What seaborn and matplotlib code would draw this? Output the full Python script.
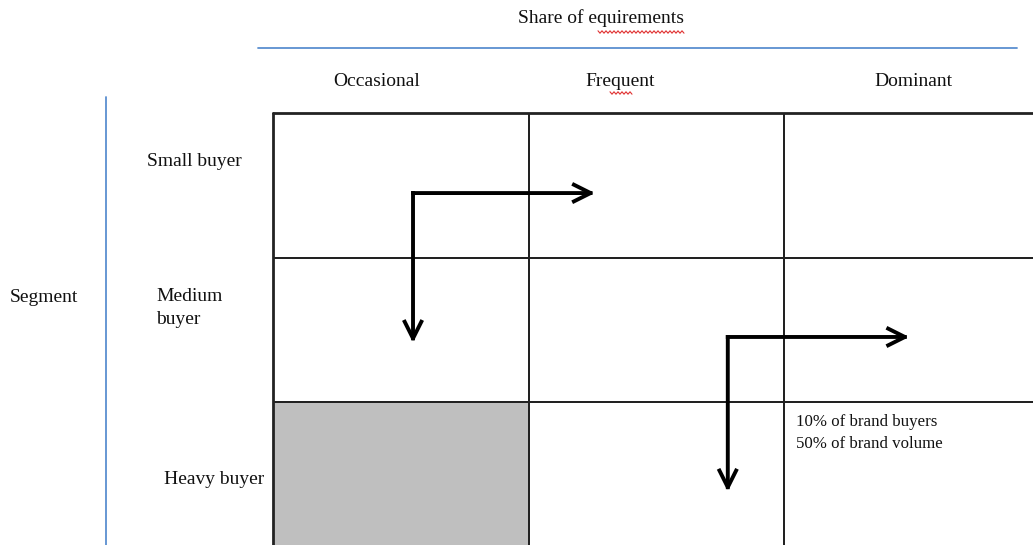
import numpy as np
import pandas as pd
import matplotlib
matplotlib.use("Agg")
import matplotlib.pyplot as plt
import seaborn as sns

# ---- data ----
columns = ["Occasional", "Frequent", "Dominant"]
rows = ["Small buyer", "Medium\nbuyer", "Heavy buyer"]
shaded = [[0, 0, 0],
          [0, 0, 0],
          [1, 0, 0]]
x_title = "Share of equirements"
y_title = "Segment"
cell_note = "10% of brand buyers\n50% of brand volume"

sns.set_theme(style="white")
plt.rcParams['font.family'] = ['Liberation Serif', 'DejaVu Serif']

W, H = 1033, 545
fig = plt.figure(figsize=(W / 100, H / 100), dpi=100)

def fx(px):
    return px / W

def fy(py):
    return 1 - py / H

FS = 14

# grid axes (pixel box: x 273..1039, y 113..546.5)
gx0, gy0, cw, ch = 273, 113, 255.5, 144.5
ax = fig.add_axes([fx(gx0), fy(gy0 + 3 * ch), 3 * cw / W, 3 * ch / H])
df = pd.DataFrame(shaded, index=rows, columns=columns)
sns.heatmap(df, ax=ax, cmap=matplotlib.colors.ListedColormap(["white", "#BFBFBF"]),
            cbar=False, linewidths=1.1, linecolor="#222222", vmin=0, vmax=1,
            xticklabels=False, yticklabels=False)
ax.set_xlabel("")
ax.set_ylabel("")
ax.set_xlim(0, 3)
ax.set_ylim(3, 0)
ax.plot([0, 0], [0, 3], color="#222222", lw=2.0, clip_on=False)
ax.plot([0, 3], [0, 0], color="#222222", lw=2.0, clip_on=False)

# bent arrows (cell units)
arrows = [
    ((0.548, 0.554), (1.26, 0.554), (0.548, 1.59)),
    ((1.78, 1.55), (2.49, 1.55), (1.78, 2.62)),
]
for corner, hend, vend in arrows:
    for end in (hend, vend):
        ax.annotate("", xy=end, xytext=corner,
                    arrowprops=dict(arrowstyle="->,head_length=1.0,head_width=0.5",
                                    lw=2.8, color="black", shrinkA=0, shrinkB=0,
                                    capstyle="projecting"))

ax.text(2.047, 2.085, cell_note, ha="left", va="top", fontsize=12.2,
        linespacing=1.5, color="#111111")

# titles / labels
fig.text(fx(601), fy(18), x_title, ha="center", va="center", fontsize=FS, color="#111111")
fig.add_artist(plt.Line2D([fx(258), fx(1017)], [fy(48), fy(48)], color="#5B8FD0", lw=1.3))
fig.add_artist(plt.Line2D([fx(106), fx(106)], [fy(97), fy(545)], color="#5B8FD0", lw=1.3))

col_x = [377, 620, 913]
for lab, x in zip(columns, col_x):
    fig.text(fx(x), fy(81), lab, ha="center", va="center", fontsize=FS, color="#111111")

fig.text(fx(147), fy(162), rows[0], ha="left", va="center", fontsize=FS, color="#111111")
fig.text(fx(156), fy(308), rows[1], ha="left", va="center", fontsize=FS, color="#111111", linespacing=1.4)
fig.text(fx(164), fy(479), rows[2], ha="left", va="center", fontsize=FS, color="#111111")
fig.text(fx(10), fy(298), y_title, ha="left", va="center", fontsize=FS, color="#111111")

# spell-check squiggles
def squiggle(x0, x1, y):
    xs = np.arange(x0, x1 + 0.1, 2.0)
    ys = y + np.where(np.arange(len(xs)) % 2 == 0, -1.2, 1.2)
    fig.add_artist(plt.Line2D(fx(xs), fy(ys), color="#E03030", lw=0.8))

squiggle(598, 684, 32)
squiggle(610, 632, 93)

fig.savefig("out.png", dpi=100)
